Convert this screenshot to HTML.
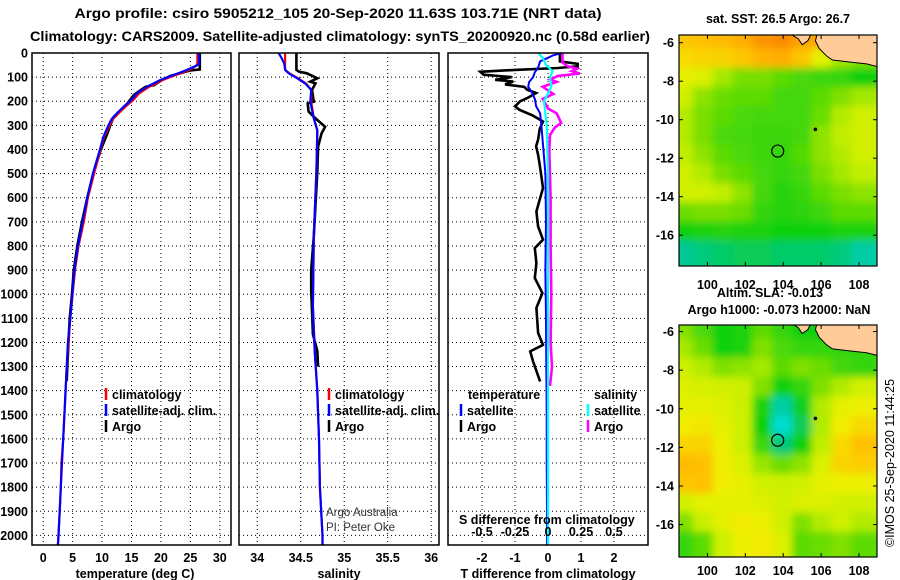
<!DOCTYPE html>
<html><head><meta charset="utf-8"><style>
html,body{margin:0;padding:0;background:#fff;}
svg{display:block;font-family:"Liberation Sans",Arial,sans-serif;}
.b{font-weight:bold;}
</style></head><body>
<svg id="c" width="900" height="580" viewBox="0 0 900 580">
<text class="b" x="338" y="18" font-size="14" textLength="527" lengthAdjust="spacingAndGlyphs" text-anchor="middle">Argo profile: csiro 5905212_105 20-Sep-2020 11.63S 103.71E (NRT data)</text>
<text class="b" x="340" y="41" font-size="14" textLength="620" lengthAdjust="spacingAndGlyphs" text-anchor="middle">Climatology: CARS2009. Satellite-adjusted climatology: synTS_20200920.nc (0.58d earlier)</text>
<g id="g"></g>
</svg>
<script>
// ---------- data ----------
const depthTicks=[0,100,200,300,400,500,600,700,800,900,1000,1100,1200,1300,1400,1500,1600,1700,1800,1900,2000];
const tempTicks=[0,5,10,15,20,25,30];
const salTicks=[34,34.5,35,35.5,36];
const salTickLabels=["34","34.5","35","35.5","36"];
const tdiffTicks=[-2,-1,0,1,2];
const sdiffTicks=[-0.5,-0.25,0,0.25,0.5];
const sdiffLabels=["-0.5","-0.25","0","0.25","0.5"];

const tArgoDepth=[0,68,72,84,95,112,133,140,153,174,209,236,264,299,333,400,500,600,700,800,900,1000,1100,1200,1300,1360];
const tArgo=[26.6,26.6,25.0,23.3,21.6,20.2,18.8,17.4,16.6,15.4,14.3,13.2,12.0,11.4,10.9,9.8,8.5,7.5,6.6,5.8,5.2,4.9,4.5,4.3,4.1,4.0];
const tClimDepth=[0,43,52,60,72,91,112,140,167,195,218,243,275,299,350,395,495,600,700,800,900,1000,1100,1200,1300,1400,1500,1600,1700,1800,1900,2000,2040];
const tSat=[26.4,26.5,26.1,25.3,24.2,22.2,19.9,17.6,15.9,15.0,13.9,12.8,11.6,11.1,10.2,9.7,8.5,7.5,6.7,5.9,5.3,4.95,4.6,4.2,4.0,3.8,3.6,3.4,3.2,3.0,2.8,2.6,2.5];
const tClim=[26.2,26.2,26.0,25.5,24.6,22.6,20.3,18.0,16.3,15.3,14.2,13.1,11.8,11.3,10.3,9.8,8.7,7.6,6.9,6.0,5.4,5.0,4.6,4.3,4.0,3.8,3.6,3.4,3.1,3.0,2.8,2.6,2.5];

const sArgoDepth=[0,70,77,84,105,119,126,153,202,209,243,271,306,333,388,493,760,900,984,1166,1235,1300];
const sArgo=[34.45,34.45,34.48,34.57,34.69,34.61,34.67,34.63,34.65,34.58,34.59,34.67,34.78,34.74,34.70,34.69,34.65,34.62,34.62,34.64,34.69,34.70];
const sClimDepth=[0,21,43,70,84,105,126,153,202,271,320,493,760,1051,1235,1400,1600,1800,2000,2040];
const sSat=[34.245,34.28,34.31,34.32,34.36,34.46,34.55,34.62,34.61,34.65,34.69,34.68,34.65,34.64,34.66,34.69,34.71,34.72,34.75,34.75];
const sClim=[34.32,34.32,34.32,34.32,34.37,34.47,34.56,34.62,34.62,34.65,34.69,34.68,34.65,34.64,34.66,34.69,34.71,34.72,34.75,34.75];

const tdArgoDepth=[0,35,45,55,62,70,78,90,100,111,118,130,140,152,166,187,200,221,235,260,284,315,359,387,422,463,512,560,608,657,719,774,809,871,933,995,1057,1161,1210,1237,1279,1362];
const tdArgo=[0.36,0.36,0.9,0.9,0.3,-1.0,-2.05,-1.95,-1.1,-1.6,-1.05,-1.3,-0.72,-0.63,-0.36,-0.63,-0.84,-1.0,-0.87,-0.45,-0.15,-0.25,-0.3,-0.36,-0.3,-0.25,-0.2,-0.15,-0.25,-0.35,-0.3,-0.15,-0.4,-0.35,-0.4,-0.17,-0.35,-0.3,-0.15,-0.54,-0.45,-0.24];
const tdSatDepth=[0,10,20,35,60,80,100,120,140,160,190,220,250,300,400,500,700,900,1100,1300,1500,1700,1900,2040];
const tdSat=[0.41,0.15,0,-0.24,-0.3,-0.4,-0.45,-0.57,-0.6,-0.5,-0.4,-0.36,-0.24,-0.2,-0.14,-0.08,-0.06,-0.08,-0.06,-0.05,-0.04,-0.04,-0.03,-0.03];
const sdArgoDepth=[0,40,55,65,75,85,95,110,120,140,170,190,230,250,290,310,340,400,600,800,1000,1200,1300,1380];
const sdArgo=[0.11,0.11,0.15,0.22,0.18,0.24,0.075,0.015,0.065,-0.04,0.04,-0.04,0,0.065,0.1,0.05,0.015,0.01,0.02,0.02,0.025,0.02,0.03,0.015];
const sdSatDepth=[0,20,50,75,100,140,200,300,500,800,1200,1600,2040];
const sdSat=[-0.075,-0.04,-0.015,0.035,0.015,0.025,-0.03,-0.01,0,0,0,0,0];

const lonTicks=[100,102,104,106,108];
const latTicks=[-6,-8,-10,-12,-14,-16];
const sstGrid=[
[0.78,0.8,0.82,0.86,0.93,0.95,0.9,0.88,0.88,0.88],
[0.72,0.74,0.74,0.78,0.84,0.86,0.78,0.62,0.5,0.45],
[0.62,0.6,0.5,0.44,0.44,0.4,0.38,0.36,0.35,0.3],
[0.57,0.47,0.42,0.4,0.4,0.37,0.37,0.4,0.45,0.5],
[0.52,0.44,0.4,0.38,0.37,0.37,0.37,0.42,0.52,0.57],
[0.52,0.44,0.38,0.37,0.36,0.36,0.37,0.47,0.54,0.57],
[0.54,0.47,0.4,0.38,0.36,0.35,0.39,0.47,0.52,0.57],
[0.57,0.52,0.44,0.4,0.37,0.35,0.37,0.44,0.5,0.54],
[0.57,0.57,0.54,0.47,0.37,0.33,0.35,0.4,0.44,0.47],
[0.42,0.44,0.44,0.42,0.35,0.33,0.34,0.36,0.4,0.4],
[0.3,0.32,0.33,0.32,0.32,0.3,0.3,0.3,0.32,0.32],
[0.15,0.18,0.2,0.22,0.22,0.2,0.2,0.2,0.18,0.12]];
const slaGrid=[
[0.45,0.38,0.3,0.32,0.4,0.35,0.3,0.3,0.3,0.3],
[0.5,0.42,0.3,0.32,0.45,0.38,0.35,0.35,0.35,0.35],
[0.56,0.52,0.45,0.47,0.5,0.4,0.45,0.42,0.37,0.35],
[0.6,0.58,0.57,0.56,0.45,0.3,0.35,0.45,0.52,0.57],
[0.62,0.62,0.6,0.56,0.32,0.12,0.28,0.52,0.62,0.64],
[0.66,0.68,0.62,0.56,0.3,0.03,0.22,0.52,0.66,0.72],
[0.74,0.74,0.64,0.56,0.36,0.18,0.3,0.54,0.72,0.8],
[0.82,0.8,0.66,0.6,0.48,0.42,0.47,0.6,0.74,0.76],
[0.78,0.8,0.66,0.62,0.57,0.56,0.57,0.62,0.64,0.64],
[0.57,0.62,0.62,0.62,0.6,0.57,0.6,0.6,0.57,0.57],
[0.45,0.55,0.62,0.67,0.64,0.57,0.45,0.52,0.57,0.52],
[0.35,0.4,0.56,0.64,0.67,0.6,0.4,0.42,0.45,0.4]];
const floatLon=[103.71], floatLat=[-11.63];

// ---------- drawing ----------
const NS="http://www.w3.org/2000/svg";
const G=document.getElementById('g');
function mk(tag,attrs,parent){const e=document.createElementNS(NS,tag);for(const k in attrs)e.setAttribute(k,attrs[k]);(parent||G).appendChild(e);return e;}
function txt(x,y,s,size,anchor,bold,parent){const t=mk('text',{x:x,y:y,'font-size':size,'text-anchor':anchor||'start'},parent);if(bold!==false)t.setAttribute('font-weight','bold');t.textContent=s;return t;}

const TOP=53,BOT=545;
const yD=d=>TOP+d*0.2412;
const panels=[
 {x0:32,x1:231,v0:-1.9,v1:31.9,name:'temperature'},
 {x0:239,x1:439,v0:33.79,v1:36.09,name:'salinity'},
 {x0:448,x1:648,v0:-3.03,v1:3.03,name:'t-diff'}];
panels.forEach(p=>{p.sx=v=>p.x0+(v-p.v0)/(p.v1-p.v0)*(p.x1-p.x0);});
const P1=panels[0],P2=panels[1],P3=panels[2];
const sdx=v=>P3.sx(v*4);

function grid(p,vals,sx){
  depthTicks.forEach(d=>{if(d===0)return;const l=mk('line',{x1:p.x0,x2:p.x1,y1:yD(d),y2:yD(d),stroke:'#000','stroke-width':1,'stroke-dasharray':'1,3'});
    
    });
  vals.forEach(v=>{const l=mk('line',{x1:sx(v),x2:sx(v),y1:TOP,y2:BOT,stroke:'#000','stroke-width':1,'stroke-dasharray':'1,3'});
    
    });
}
grid(P1,tempTicks,P1.sx);grid(P2,salTicks,P2.sx);grid(P3,tdiffTicks,P3.sx);

function line(depths,vals,sx,color,w,name){
  const pts=depths.map((d,i)=>sx(vals[i]).toFixed(1)+','+yD(d).toFixed(1)).join(' ');
  const l=mk('polyline',{points:pts,fill:'none',stroke:color,'stroke-width':w,'stroke-linejoin':'miter'});
  
  
}
line(tArgoDepth,tArgo,P1.sx,'#000',2.6,'temp-argo-line');
line(tClimDepth,tClim,P1.sx,'#f00',2.2,'temp-climatology-line');
line(tClimDepth,tSat,P1.sx,'#00f',2.2,'temp-satellite-line');
line(sArgoDepth,sArgo,P2.sx,'#000',2.6,'sal-argo-line');
line(sClimDepth,sClim,P2.sx,'#f00',2.2,'sal-climatology-line');
line(sClimDepth,sSat,P2.sx,'#00f',2.2,'sal-satellite-line');
line(tdArgoDepth,tdArgo,P3.sx,'#000',2.6,'tdiff-argo-line');
line(tdSatDepth,tdSat,P3.sx,'#00f',2,'tdiff-satellite-line');
line(sdArgoDepth,sdArgo,sdx,'#f0f',2.6,'sdiff-argo-line');
line(sdSatDepth,sdSat,sdx,'#0ff',2.2,'sdiff-satellite-line');

panels.forEach(p=>{const r=mk('rect',{x:p.x0,y:TOP,width:p.x1-p.x0,height:BOT-TOP,fill:'none',stroke:'#000','stroke-width':1.5});
  
  });

depthTicks.forEach(d=>{const t=txt(28,yD(d)+4.5,String(d),12.5,'end');
  
  });
tempTicks.forEach(v=>{const t=txt(P1.sx(v),562,String(v),12.5,'middle');
  
  });
salTicks.forEach((v,i)=>{const t=txt(P2.sx(v),562,salTickLabels[i],12.5,'middle');
  
  });
tdiffTicks.forEach(v=>{const t=txt(P3.sx(v),562,String(v),12.5,'middle');
  
  });
sdiffTicks.forEach((v,i)=>{const t=txt(sdx(v),536,sdiffLabels[i],12.5,'middle');
  
  });

function legendItem(x,y,color,label,name){
  const m=mk('line',{x1:x,x2:x,y1:y-11,y2:y+1,stroke:color,'stroke-width':2.5});
  
  
  const t=txt(x+6,y,label,12.5,'start');
  
  
}
legendItem(106,399,'#f00','climatology','legend-temp-climatology');
legendItem(106,415,'#00f','satellite-adj. clim.','legend-temp-satellite');
legendItem(106,431,'#000','Argo','legend-temp-argo');
legendItem(329,399,'#f00','climatology','legend-sal-climatology');
legendItem(329,415,'#00f','satellite-adj. clim.','legend-sal-satellite');
legendItem(329,431,'#000','Argo','legend-sal-argo');
legendItem(461,415,'#00f','satellite','legend-tdiff-satellite');
legendItem(461,431,'#000','Argo','legend-tdiff-argo');
legendItem(588,415,'#0ff','satellite','legend-sdiff-satellite');
legendItem(588,431,'#f0f','Argo','legend-sdiff-argo');
[[468,399,'temperature','legend-temp-header'],[594,399,'salinity','legend-sal-header'],[459,524,'S difference from climatology','sdiff-axis-title']].forEach(a=>{const t=txt(a[0],a[1],a[2],12.5,'start');
  
  });
[[326,516,'Argo Australia','credit-argo-australia'],[326,531,'PI: Peter Oke','credit-pi']].forEach(a=>{const t=txt(a[0],a[1],a[2],11.5,'start',false);t.setAttribute('fill','#333');
  
  });
[[135,578,'temperature (deg C)','temp-axis-title'],[339,578,'salinity','sal-axis-title'],[548,578,'T difference from climatology','tdiff-axis-title']].forEach(a=>{const t=txt(a[0],a[1],a[2],12.5,'middle');
  
  });

// ---------- maps ----------
const MX0=679,MX1=877,LON0=98.5,LON1=108.95;
const mx=lon=>MX0+(lon-LON0)/(LON1-LON0)*(MX1-MX0);
const stops=[[0,[0,224,224]],[0.15,[0,200,150]],[0.3,[16,208,16]],[0.45,[128,224,0]],[0.55,[200,240,0]],[0.65,[240,240,0]],[0.8,[255,192,0]],[0.92,[255,153,0]],[1,[240,112,0]]];
function col(v){for(let i=1;i<stops.length;i++){if(v<=stops[i][0]){const a=stops[i-1],b=stops[i],f=(v-a[0])/(b[0]-a[0]);return 'rgb('+a[1].map((c,k)=>Math.round(c+(b[1][k]-c)*f)).join(',')+')';}}return 'rgb(240,112,0)';}
let defs=mk('defs',{});
mk('feGaussianBlur',{stdDeviation:4},mk('filter',{id:'bl',x:'-10%',y:'-10%',width:'120%',height:'120%'},defs));

function drawMap(prefix,gridData,yTop,yBot,latTop,latBot,labelY){
  const my=lat=>yTop+(latTop-lat)/(latTop-latBot)*(yBot-yTop);
  const cp=mk('clipPath',{id:'cp'+prefix},defs);mk('rect',{x:MX0,y:yTop,width:MX1-MX0,height:yBot-yTop},cp);
  const g=mk('g',{'clip-path':'url(#cp'+prefix+')'});
  
  
  const h=mk('g',{filter:'url(#bl)'},g);
  const rows=gridData.length,cols=gridData[0].length;
  const dLat=(latTop-latBot)/rows,dLon=(LON1-LON0)/cols;
  gridData.forEach((row,r)=>row.forEach((v,c)=>{
    const x=mx(LON0+c*dLon),y=my(latTop-r*dLat);
    const cell=mk('rect',{x:x-6,y:y-6,width:mx(LON0+(c+1)*dLon)-x+12,height:my(latTop-(r+1)*dLat)-y+12,fill:col(v)},h);
    
    
  }));
  const land=[[105.8,-5.5],[109.2,-5.5],[109.2,-7.3],[108.4,-7.1],[107.5,-7.0],[106.6,-6.9],[106.3,-6.7],[105.9,-6.3],[105.7,-5.9]];
  const lp=mk('polygon',{points:land.map(p=>mx(p[0])+','+my(p[1])).join(' '),fill:'#ffcc99',stroke:'#000','stroke-width':1},g);
  
  
  const s=[[104.3,-5.5],[105.5,-5.5],[105.3,-5.9],[105.0,-6.1],[104.8,-5.8]];
  const sp=mk('polygon',{points:s.map(p=>mx(p[0])+','+my(p[1])).join(' '),fill:'#ffcc99',stroke:'#000','stroke-width':1},g);
  
  
  const fc=mk('circle',{cx:mx(floatLon[0]),cy:my(floatLat[0]),r:6,fill:'none',stroke:'#000','stroke-width':1.2},g);
  
  
  const dt=mk('circle',{cx:mx(105.7),cy:my(-10.5),r:1.8,fill:'#000'},g);
  
  
  const fr=mk('rect',{x:MX0,y:yTop,width:MX1-MX0,height:yBot-yTop,fill:'none',stroke:'#000','stroke-width':1.2});
  
  
  lonTicks.forEach(l=>{mk('line',{x1:mx(l),x2:mx(l),y1:yTop,y2:yTop+4,stroke:'#000'});mk('line',{x1:mx(l),x2:mx(l),y1:yBot,y2:yBot-4,stroke:'#000'});
    const t=txt(mx(l),labelY,String(l),12.5,'middle');
    
    });
  latTicks.forEach(l=>{mk('line',{x1:MX0,x2:MX0+4,y1:my(l),y2:my(l),stroke:'#000'});mk('line',{x1:MX1,x2:MX1-4,y1:my(l),y2:my(l),stroke:'#000'});
    const t=txt(674,my(l)+4.5,String(l),12.5,'end');
    
    });
}
drawMap('sst',sstGrid,35,266,-5.6,-17.6,289);
drawMap('sla',slaGrid,325,557,-5.66,-17.68,575);

[[778,23,'sat. SST: 26.5 Argo: 26.7','sst-map-title'],[770,297,'Altim. SLA: -0.013','sla-map-title'],[779,314,'Argo h1000: -0.073 h2000: NaN','sla-map-subtitle']].forEach(a=>{const t=txt(a[0],a[1],a[2],12.5,'middle');
  
  });
const ts=txt(0,0,'©IMOS 25-Sep-2020 11:44:25',12.5,'middle',false);
ts.setAttribute('transform','translate(894,463) rotate(-90)');


</script>
</body></html>
